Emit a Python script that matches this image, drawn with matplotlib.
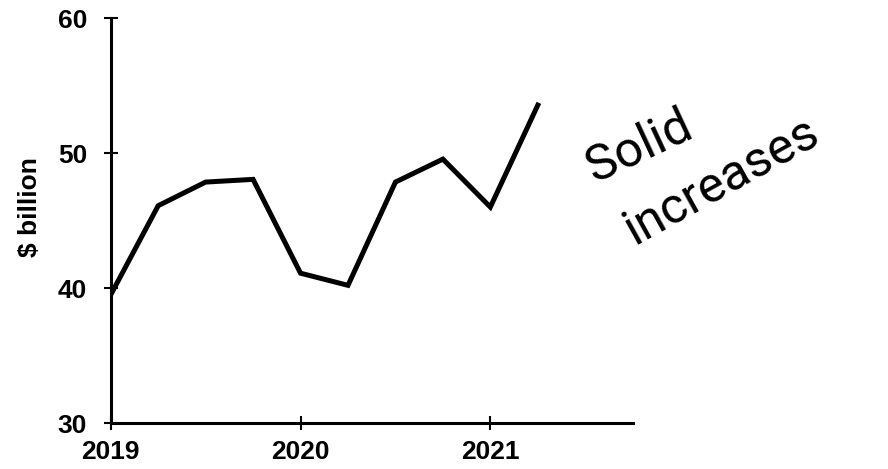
import matplotlib.pyplot as plt

# quarterly values
quarters = [2019.0, 2019.25, 2019.5, 2019.75, 2020.0, 2020.25, 2020.5, 2020.75, 2021.0, 2021.25]
values = [39.5, 46.1, 47.85, 48.05, 41.1, 40.2, 47.85, 49.55, 46.0, 53.55]
year_ticks = [2019, 2020, 2021]
y_ticks = [30, 40, 50, 60]

plt.rcParams['font.family'] = ['Liberation Sans', 'DejaVu Sans']

fig = plt.figure(figsize=(8.88, 4.69), dpi=100)
ax = fig.add_axes([0.1247, 0.098, 0.5878, 0.8635])

ax.plot(quarters, values, color='black', linewidth=3.6, solid_joinstyle='miter')

ax.set_xlim(2019, 2021.75)
ax.set_ylim(30, 60)
ax.set_xticks(year_ticks)
ax.set_yticks(y_ticks)
ax.tick_params(direction='inout', length=10, width=1.5, labelsize=19)
ax.tick_params(axis='y', pad=12)
ax.tick_params(axis='x', pad=7)
for lab in ax.get_xticklabels() + ax.get_yticklabels():
    lab.set_fontweight('bold')

for s in ['top', 'right']:
    ax.spines[s].set_visible(False)
for s in ['left', 'bottom']:
    ax.spines[s].set_linewidth(2.2)

ax.set_ylabel('$ billion', fontsize=19, fontweight='bold')
ax.yaxis.set_label_coords(-0.132, 0.533)

# handwritten note
note = dict(fontsize=36, family=['Roboto', 'DejaVu Sans'], fontweight='normal',
            ha='left', va='baseline', rotation_mode='anchor', color='black')
fig.text(0.67, 0.61, 'Solid', rotation=25, **note)
fig.text(0.714, 0.478, 'increases', rotation=29, **note)

fig.savefig('out.png', dpi=100)
